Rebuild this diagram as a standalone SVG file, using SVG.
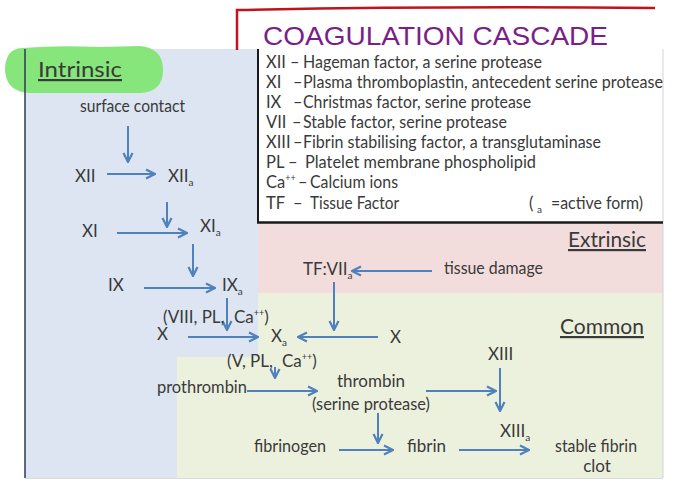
<svg xmlns="http://www.w3.org/2000/svg" width="686" height="498" viewBox="0 0 686 498">
<style>
  text { font-family: Lato, "Open Sans", "Liberation Sans", sans-serif; fill: #3a3a3a; font-size: 17px; }
  .leg { font-size: 16.5px; }
  .head { font-size: 22px; text-decoration: underline; }
  .sub { font-size: 10px; }
  .sup { font-size: 9px; }
  .title { font-family: "Liberation Sans", "DejaVu Sans", sans-serif; font-size: 26px; fill: #7b1f88; }
  .conn line { stroke: #4f81bd; stroke-width: 2; fill: none; }
  .mid { text-anchor: middle; }
</style>
<defs>
  <marker id="ah" markerUnits="userSpaceOnUse" markerWidth="12" markerHeight="12" viewBox="0 0 12 12" refX="11" refY="6" orient="auto">
    <path d="M2,1.5 L11,6 L2,10.5" fill="none" stroke="#4f81bd" stroke-width="2.2" stroke-linejoin="miter"/>
  </marker>
</defs>

<!-- background -->
<rect x="0" y="0" width="686" height="498" fill="#ffffff"/>
<g id="panels">
  <path d="M25,49 H258 V357 H177 V478 H25 Z" fill="#dce5f1"/>
  <rect x="258" y="222" width="405" height="71" fill="#f2dcdc"/>
  <path d="M258,293 H663 V478 H177 V357 H258 Z" fill="#ecf1de"/>
  <rect x="258" y="49" width="405" height="173" fill="#ffffff"/>
  <line x1="663" y1="49" x2="663" y2="478" stroke="#d0d4d8" stroke-width="1"/>
  <line x1="25" y1="478.5" x2="663" y2="478.5" stroke="#d8dadc" stroke-width="1"/>
</g>

<!-- title -->
<g id="title">
  <path d="M237,50 V10 Q450,6 655,8" fill="none" stroke="#c0141c" stroke-width="2.5"/>
  <text class="title" x="263" y="45" textLength="345" lengthAdjust="spacingAndGlyphs">COAGULATION CASCADE</text>
</g>

<!-- intrinsic heading -->
<g id="intrinsic-label">
  <path d="M22,48 Q60,45 100,47 L140,46 Q163,48 163,70 Q163,92 140,93 L30,93 Q6,92 5,70 Q5,49 22,48 Z" fill="#86e67b"/>
  <line x1="25" y1="49" x2="25" y2="478" stroke="#2c3a55" stroke-width="1.5"/>
  <text class="head" x="38" y="77" textLength="84" lengthAdjust="spacingAndGlyphs">Intrinsic</text>
</g>

<!-- legend -->
<g id="legend">
  <line x1="258" y1="49" x2="258" y2="223" stroke="#1a1a1a" stroke-width="2"/>
  <line x1="257" y1="222.5" x2="663" y2="222.5" stroke="#1a1a1a" stroke-width="2.5"/>
  <text class="leg" x="266" y="68">XII</text><text class="leg" x="290" y="68">–</text><text class="leg" x="303" y="68" textLength="239" lengthAdjust="spacingAndGlyphs">Hageman factor, a serine protease</text>
  <text class="leg" x="266" y="88">XI</text><text class="leg" x="293" y="88">–</text><text class="leg" x="303" y="88" textLength="360" lengthAdjust="spacingAndGlyphs">Plasma thromboplastin, antecedent serine protease</text>
  <text class="leg" x="266" y="108">IX</text><text class="leg" x="293" y="108">–</text><text class="leg" x="303" y="108" textLength="228" lengthAdjust="spacingAndGlyphs">Christmas factor, serine protease</text>
  <text class="leg" x="266" y="128">VII</text><text class="leg" x="292" y="128">–</text><text class="leg" x="303" y="128" textLength="204" lengthAdjust="spacingAndGlyphs">Stable factor, serine protease</text>
  <text class="leg" x="266" y="148">XIII</text><text class="leg" x="293" y="148">–</text><text class="leg" x="303" y="148" textLength="298" lengthAdjust="spacingAndGlyphs">Fibrin stabilising factor, a transglutaminase</text>
  <text class="leg" x="266" y="168">PL</text><text class="leg" x="288" y="168">–</text><text class="leg" x="305" y="168" textLength="231" lengthAdjust="spacingAndGlyphs">Platelet membrane phospholipid</text>
  <text class="leg" x="266" y="188">Ca<tspan class="sup" dy="-7">++</tspan></text><text class="leg" x="298" y="188">–</text><text class="leg" x="310" y="188" textLength="88" lengthAdjust="spacingAndGlyphs">Calcium ions</text>
  <text class="leg" x="266" y="209">TF</text><text class="leg" x="293" y="209">–</text><text class="leg" x="310" y="209" textLength="89" lengthAdjust="spacingAndGlyphs">Tissue Factor</text>
  <text class="leg" x="529" y="209">(</text><text class="sub" x="537" y="213">a</text><text class="leg" x="551" y="209" textLength="92" lengthAdjust="spacingAndGlyphs">=active form)</text>
</g>

<!-- headings -->
<g id="extrinsic-label"><text class="head" x="568" y="247" textLength="78" lengthAdjust="spacingAndGlyphs">Extrinsic</text></g>
<g id="common-label"><text class="head" x="560" y="334" textLength="84" lengthAdjust="spacingAndGlyphs">Common</text></g>

<!-- connectors -->
<g id="connectors" class="conn">
  <line x1="128" y1="126" x2="128" y2="162" marker-end="url(#ah)"/>
  <line x1="107" y1="174" x2="155" y2="174" marker-end="url(#ah)"/>
  <line x1="167" y1="202" x2="167" y2="227" marker-end="url(#ah)"/>
  <line x1="117" y1="233" x2="187" y2="233" marker-end="url(#ah)"/>
  <line x1="193" y1="244" x2="193" y2="276" marker-end="url(#ah)"/>
  <line x1="144" y1="288" x2="215" y2="288" marker-end="url(#ah)"/>
  <line x1="227" y1="298" x2="227" y2="330" marker-end="url(#ah)"/>
  <line x1="188" y1="337" x2="258" y2="337" marker-end="url(#ah)"/>
  <line x1="432" y1="271" x2="352" y2="271" marker-end="url(#ah)"/>
  <line x1="334" y1="282" x2="334" y2="330" marker-end="url(#ah)"/>
  <line x1="378" y1="337" x2="298" y2="337" marker-end="url(#ah)"/>
  <line x1="275" y1="367" x2="275" y2="378" marker-end="url(#ah)"/>
  <line x1="247" y1="391" x2="317" y2="391" marker-end="url(#ah)"/>
  <line x1="426" y1="391" x2="496" y2="391" marker-end="url(#ah)"/>
  <line x1="500" y1="368" x2="500" y2="411" marker-end="url(#ah)"/>
  <line x1="378" y1="413" x2="378" y2="443" marker-end="url(#ah)"/>
  <line x1="339" y1="450" x2="393" y2="450" marker-end="url(#ah)"/>
  <line x1="459" y1="450" x2="529" y2="450" marker-end="url(#ah)"/>
</g>

<!-- nodes -->
<g id="surface-contact"><text x="80" y="112" textLength="105" lengthAdjust="spacingAndGlyphs">surface contact</text></g>
<g id="XII"><text x="75" y="182">XII</text></g>
<g id="XIIa"><text x="168" y="182">XII<tspan class="sub" dy="4">a</tspan></text></g>
<g id="XI"><text x="82" y="237">XI</text></g>
<g id="XIa"><text x="200" y="232">XI<tspan class="sub" dy="4">a</tspan></text></g>
<g id="IX"><text x="108" y="291">IX</text></g>
<g id="IXa"><text x="222" y="291">IX<tspan class="sub" dy="4">a</tspan></text></g>
<g id="cofactors-VIII"><text x="163" y="323">(VIII, PL,</text><text x="234" y="323">Ca<tspan class="sup" dy="-7">++</tspan><tspan dy="7">)</tspan></text></g>
<g id="X-left"><text x="157" y="340">X</text></g>
<g id="Xa"><text x="271" y="342">X<tspan class="sub" dy="4">a</tspan></text></g>
<g id="X-right"><text x="390" y="343">X</text></g>
<g id="TF-VIIa"><text x="303" y="275">TF:VII<tspan class="sub" dy="4">a</tspan></text></g>
<g id="tissue-damage"><text x="444" y="274" textLength="99" lengthAdjust="spacingAndGlyphs">tissue damage</text></g>
<g id="cofactors-V"><text x="227" y="367">(V, PL,</text><text x="282" y="367">Ca<tspan class="sup" dy="-7">++</tspan><tspan dy="7">)</tspan></text></g>
<g id="prothrombin"><text x="157" y="393" textLength="90" lengthAdjust="spacingAndGlyphs">prothrombin</text></g>
<g id="thrombin"><text class="mid" x="371" y="387">thrombin</text><text class="mid" x="371" y="410" textLength="118" lengthAdjust="spacingAndGlyphs">(serine protease)</text></g>
<g id="XIII"><text x="488" y="360">XIII</text></g>
<g id="XIIIa"><text x="500" y="437">XIII<tspan class="sub" dy="4">a</tspan></text></g>
<g id="fibrinogen"><text x="254" y="452" textLength="72" lengthAdjust="spacingAndGlyphs">fibrinogen</text></g>
<g id="fibrin"><text x="407" y="452">fibrin</text></g>
<g id="stable-fibrin-clot"><text class="mid" x="596" y="452" textLength="82" lengthAdjust="spacingAndGlyphs">stable fibrin</text><text class="mid" x="597" y="472">clot</text></g>
</svg>
